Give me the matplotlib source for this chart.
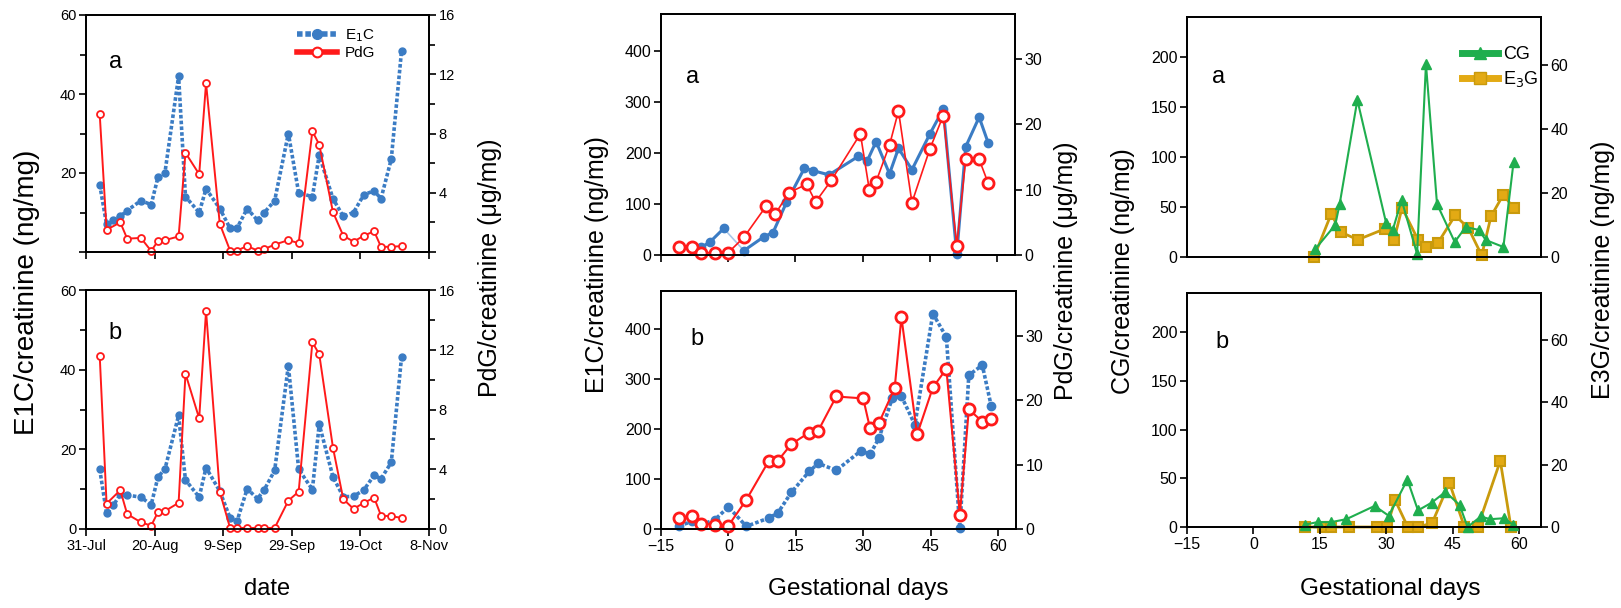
import matplotlib
matplotlib.use('Agg')
import matplotlib.pyplot as plt
from matplotlib.lines import Line2D
from matplotlib.ticker import MultipleLocator

plt.rcParams['font.family'] = ['Liberation Sans', 'DejaVu Sans']

# ---- left column: days since 31-Jul ----
date_ticks = [0, 20, 40, 60, 80, 100]
date_labels = ['31-Jul', '20-Aug', '9-Sep', '29-Sep', '19-Oct', '8-Nov']

days_e1c = [4, 6, 8, 10, 12, 16, 19, 21, 23, 27, 29, 33, 35, 39, 42, 44,
            47, 50, 52, 55, 59, 62, 66, 68, 72, 75, 78, 81, 84, 86, 89, 92]
e1c_a = [17, 7, 8, 9, 10.5, 13, 12, 19, 20, 44.5, 14, 10, 16, 11, 6, 6,
         11, 8, 10, 13, 30, 15, 14, 24.5, 13.5, 9, 10, 14.5, 15.5, 13.5, 23.5, 51]
e1c_b = [15, 3.9, 6, 8.7, 8.5, 8, 6.1, 13.1, 15, 28.5, 12.3, 8, 15.4, 9.5, 2.8, 1.9,
         10.1, 7.6, 9.9, 14.7, 41, 15, 9.9, 26.3, 13.1, 8.1, 8.2, 9.8, 13.5, 12.6, 16.7, 43.2]

days_pdg = [4, 6, 10, 12, 16, 19, 21, 23, 27, 29, 33, 35, 39, 42, 44, 47,
            50, 52, 55, 59, 62, 66, 68, 72, 75, 78, 81, 84, 86, 89, 92]
pdg_a = [9.3, 1.5, 2.0, 0.9, 0.95, 0.07, 0.75, 0.8, 1.05, 6.7, 5.25, 11.4, 1.9, 0.1, 0.1, 0.4,
         0.1, 0.2, 0.5, 0.8, 0.6, 8.15, 7.25, 2.7, 1.1, 0.7, 1.1, 1.4, 0.35, 0.35, 0.4]
pdg_b = [11.6, 1.7, 2.6, 1.0, 0.45, 0.22, 1.14, 1.2, 1.75, 10.4, 7.4, 14.6, 2.5, 0.07, 0.07, 0.07,
         0.07, 0.07, 0.07, 1.9, 2.5, 12.5, 11.7, 5.45, 2.0, 1.35, 1.75, 2.1, 0.9, 0.85, 0.75]

# ---- middle column: gestational days ----
gd_ticks = [-15, 0, 15, 30, 45, 60]

gd_e1c_a = [-6, -4, -1, 3.5, 8, 10, 13, 17, 19, 22.5, 29, 31, 33, 36, 38, 41, 45, 48, 51, 53, 56, 58]
mid_e1c_a = [15, 26, 52, 8.5, 36, 44, 103, 170, 165, 157, 193, 184, 222, 159, 209, 167,
             237, 286, 2, 212, 270, 220]
gd_pdg_a = [-11, -8, -6, -3, 0, 3.5, 8.5, 10.5, 13.5, 17.5, 19.5, 23, 29.5, 31.5, 33, 36, 38,
            41, 45, 48, 51, 53, 56, 58]
mid_pdg_a = [1.17, 1.27, 0.36, 0.36, 0.36, 2.7, 7.5, 6.25, 9.5, 10.8, 8.1, 11.4, 18.5, 9.9, 11.2,
             16.8, 22.0, 8.0, 16.2, 21.3, 1.4, 14.6, 14.6, 11.0]

gd_e1c_b = [-11, -8, -6, -3, 0, 4, 9, 11, 14, 18, 20, 24, 29.5, 31.5, 33.5, 36.5, 38.5, 41.5,
            45.5, 48.5, 51.5, 53.5, 56.5, 58.5]
mid_e1c_b = [6.6, 15, 8.6, 18.6, 44, 5.3, 22, 32, 73, 115, 131, 117, 156, 149, 181, 262, 265, 208,
             430, 383, 2, 307, 327, 245]
gd_pdg_b = [-11, -8, -6, -3, 0, 4, 9, 11, 14, 18, 20, 24, 30, 31.5, 33.5, 37, 38.5, 42, 45.5,
            48.5, 51.5, 53.5, 56.5, 58.5]
mid_pdg_b = [1.7, 2.07, 0.83, 0.67, 0.52, 4.55, 10.6, 10.6, 13.2, 15, 15.3, 20.6, 20.3, 15.7, 16.5,
             21.9, 32.9, 14.7, 22.0, 24.9, 2.2, 18.6, 16.7, 17.1]

# ---- right column ----
gd_cg_a = [14, 18.5, 19.5, 23.5, 30, 31.5, 33.5, 37, 39, 41.5, 45.5, 48, 51, 52.5, 56.5, 58.8]
cg_a = [8, 32, 53, 157, 34, 27, 57, 3, 193, 53, 15, 30, 27, 17, 10, 95]
gd_e3g_a = [13.7, 17.6, 19.7, 23.6, 29.7, 31.8, 33.6, 37.2, 39, 41.7, 45.6, 48.6, 51.6, 53.7, 56.5, 58.8]
e3g_a = [0, 13.5, 7.8, 5.4, 8.8, 5.4, 15.4, 5.4, 3.1, 4.4, 13.0, 9.0, 0.5, 12.7, 19.5, 15.3]

gd_cg_b = [11.6, 14.5, 17.6, 21, 27.4, 30.6, 34.8, 37.2, 40.3, 43.4, 46.6, 48.4, 51.4, 53.5, 56.7, 58.6]
cg_b = [2.4, 5, 5, 8, 21.6, 11.5, 48.6, 17, 25, 36, 22.6, 0, 10.8, 8, 9, 2.4]
gd_e3g_b = [11.6, 15.8, 17.6, 21.5, 28, 30.2, 32, 34.9, 37.3, 40.4, 44.3, 47.7, 50.7, 55.8, 58.2]
e3g_b = [0, 0, 0, 0, 0, 0, 8.7, 0, 0, 1.3, 14.2, 0, 0, 21.2, 0]

BLUE = '#3b7cc4'
LIGHT_BLUE = '#a9c6e8'
RED = '#ff1a1a'
GREEN = '#1fae4e'
GOLD = '#c99a0c'
GOLD_FACE = '#e3aa14'
DOTS = (0, (1.0, 0.6))

W, H = 1621, 608
fig = plt.figure(figsize=(W / 100, H / 100), dpi=100)


def px_axes(x0, y0, x1, y1):
    return fig.add_axes([x0 / W, 1 - y1 / H, (x1 - x0) / W, (y1 - y0) / H])


def style(ax, fs):
    ax.tick_params(which='major', direction='out', length=5, width=1.2, labelsize=fs, pad=2)
    ax.tick_params(which='minor', direction='out', length=4, width=1.2)
    for s in ax.spines.values():
        s.set_linewidth(1.3)


def fig_label(x, y, s, fs, rot=90):
    fig.text(x / W, 1 - y / H, s, rotation=rot, ha='center', va='center', fontsize=fs)


def panel_letter(ax, x, y, s):
    ax.text(x, y, s, transform=ax.transAxes, ha='center', va='center', fontsize=17)


# ================= left column =================
for (y0, y1, e1c, pdg, letter, lx, ly) in [(15, 252, e1c_a, pdg_a, 'a', 0.085, 0.80),
                                            (290, 529, e1c_b, pdg_b, 'b', 0.085, 0.82)]:
    ax = px_axes(86, y0, 429, y1)
    ax.plot(days_e1c, e1c, color=BLUE, lw=2.6, ls=DOTS, marker='o', ms=5,
            mfc=BLUE, mec=BLUE, clip_on=False)
    ax.set_xlim(0, 100)
    ax.set_ylim(0, 60)
    ax.set_xticks(date_ticks)
    ax.set_yticks([0, 20, 40, 60])
    ax.yaxis.set_minor_locator(MultipleLocator(10))
    style(ax, 10.5)
    r = ax.twinx()
    r.plot(days_pdg, pdg, color=RED, lw=1.4, marker='o', ms=5, mfc='white',
           mec=RED, mew=1.3, clip_on=False)
    r.set_ylim(0, 16)
    r.set_yticks([0, 4, 8, 12, 16])
    r.yaxis.set_minor_locator(MultipleLocator(2))
    style(r, 10.5)
    panel_letter(ax, lx, ly, letter)
    if letter == 'a':
        ax.set_xticklabels([])
        ax.set_yticklabels(['', '20', '40', '60'])
        r.set_yticklabels(['', '4', '8', '12', '16'])
        handles = [Line2D([], [], color=BLUE, lw=4, ls=(0, (1, 0.5)), marker='o', ms=7),
                   Line2D([], [], color=RED, lw=4, marker='o', ms=7, mfc='white', mec=RED, mew=1.5)]
        r.legend(handles, ['E$_1$C', 'PdG'], loc='upper left', bbox_to_anchor=(0.58, 1.0),
                 frameon=False, fontsize=11, handlelength=2.6, labelspacing=0.15,
                 borderpad=0.3, handletextpad=0.5)
    else:
        ax.set_xticklabels(date_labels)

fig_label(27, 292, 'E1C/creatinine (ng/mg)', 20)
fig_label(490, 268, 'PdG/creatinine (\u03bcg/mg)', 18)
fig_label(267, 589, 'date', 17, rot=0)

# ================= middle column =================
ax = px_axes(661, 14, 1015, 255)
ax.plot(gd_e1c_a[2:4], mid_e1c_a[2:4], color=LIGHT_BLUE, lw=1.2, clip_on=False)
ax.plot(gd_e1c_a[:3], mid_e1c_a[:3], color=BLUE, lw=2.2, marker='o', ms=6, clip_on=False)
ax.plot(gd_e1c_a[3:], mid_e1c_a[3:], color=BLUE, lw=2.2, marker='o', ms=6, clip_on=False)
ax.set_xlim(-15, 64)
ax.set_ylim(0, 472)
ax.set_xticks(gd_ticks)
ax.set_xticklabels([])
ax.set_yticks([0, 100, 200, 300, 400])
style(ax, 11.5)
r = ax.twinx()
r.plot(gd_pdg_a, mid_pdg_a, color=RED, lw=1.2, marker='o', ms=8, mfc='white', mec=RED,
       mew=2, clip_on=False)
r.set_ylim(0, 36.8)
r.set_yticks([0, 10, 20, 30])
style(r, 11.5)
panel_letter(ax, 0.09, 0.74, 'a')

ax = px_axes(661, 291, 1016, 529)
ax.plot(gd_e1c_b, mid_e1c_b, color=BLUE, lw=2.6, ls=DOTS, marker='o', ms=6, clip_on=False)
ax.set_xlim(-15, 64)
ax.set_ylim(0, 475)
ax.set_xticks(gd_ticks)
ax.set_yticks([0, 100, 200, 300, 400])
style(ax, 11.5)
r = ax.twinx()
r.plot(gd_pdg_b, mid_pdg_b, color=RED, lw=1.5, marker='o', ms=8, mfc='white', mec=RED,
       mew=2, clip_on=False)
r.set_ylim(0, 37)
r.set_yticks([0, 10, 20, 30])
style(r, 11.5)
panel_letter(ax, 0.10, 0.80, 'b')

fig_label(597, 265, 'E1C/creatinine (ng/mg)', 18)
fig_label(1066, 271, 'PdG/creatinine (\u03bcg/mg)', 18)
fig_label(858, 589, 'Gestational days', 17.5, rot=0)

# ================= right column =================
for (y0, y1, cg_d, cg, e3_d, e3, letter, lx, ly) in [
        (17, 257, gd_cg_a, cg_a, gd_e3g_a, e3g_a, 'a', 0.088, 0.75),
        (293, 527, gd_cg_b, cg_b, gd_e3g_b, e3g_b, 'b', 0.10, 0.79)]:
    ax = px_axes(1187, y0, 1541, y1)
    r = ax.twinx()
    r.plot(e3_d, e3, color=GOLD, lw=2, marker='s', ms=7, mfc=GOLD_FACE, mec=GOLD,
           mew=1.5, clip_on=False)
    ax.plot(cg_d, cg, color=GREEN, lw=1.5, marker='^', ms=6.5, mfc=GREEN, mec=GREEN,
            clip_on=False)
    ax.set_zorder(r.get_zorder() + 1)
    ax.patch.set_visible(False)
    ax.set_xlim(-15, 65)
    ax.set_ylim(0, 240)
    ax.set_yticks([0, 50, 100, 150, 200])
    r.set_ylim(0, 75)
    r.set_yticks([0, 20, 40, 60])
    style(ax, 11.5)
    style(r, 11.5)
    panel_letter(ax, lx, ly, letter)
    if letter == 'a':
        ax.set_xticks([])
        handles = [Line2D([], [], color=GREEN, lw=5, marker='^', ms=8),
                   Line2D([], [], color=GOLD_FACE, lw=5, marker='s', ms=8, mec=GOLD)]
        ax.legend(handles, ['CG', 'E$_3$G'], loc='upper left', bbox_to_anchor=(0.74, 0.93),
                  frameon=False, fontsize=13, handlelength=2.0, labelspacing=0.3,
                  borderpad=0.2, handletextpad=0.3)
    else:
        ax.set_xticks(gd_ticks)

fig_label(1123, 271, 'CG/creatinine (ng/mg)', 18)
fig_label(1603, 270, 'E3G/creatinine (ng/mg)', 18)
fig_label(1390, 589, 'Gestational days', 17.5, rot=0)

fig.savefig('out.png', dpi=100)
